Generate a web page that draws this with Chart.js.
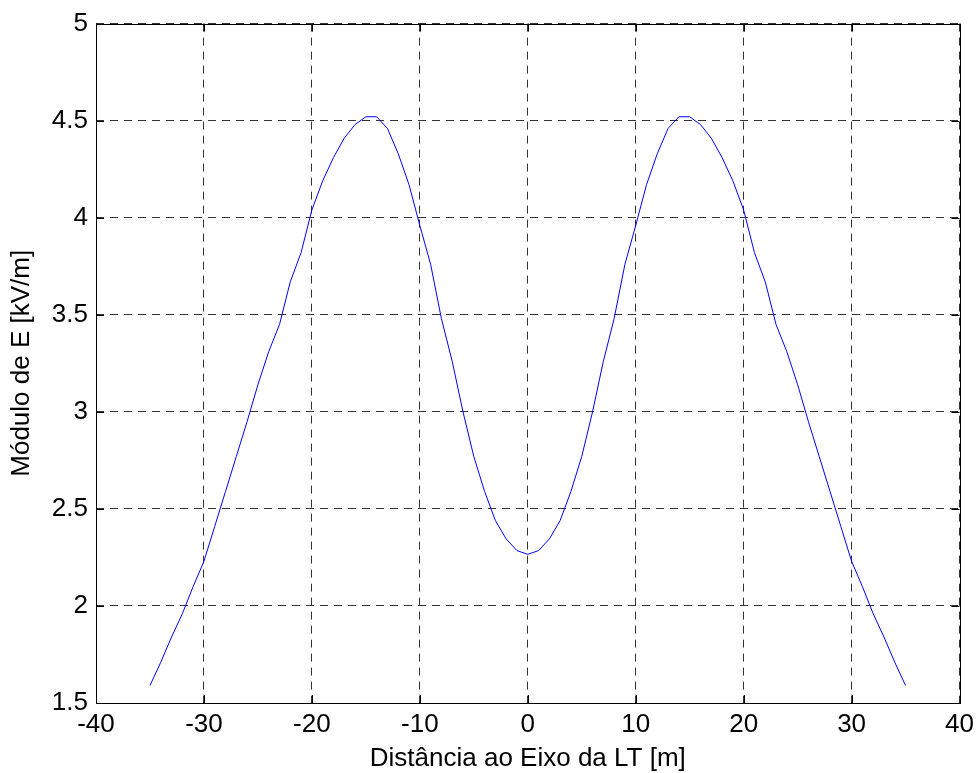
<!DOCTYPE html>
<html>
<head>
<meta charset="utf-8">
<script src="https://cdn.jsdelivr.net/npm/chart.js@4.4.0/dist/chart.umd.min.js"></script>
<style>
  body { margin: 0; background: #fff; }
  canvas { display: block; }
</style>
</head>
<body>
<canvas id="myChart" width="980" height="773"></canvas>
<script>
// data
const distances = [-35, -34, -33, -32, -31, -30, -29, -28, -27, -26, -25, -24, -23, -22, -21, -20, -19, -18,
    -17, -16, -15, -14, -13, -12, -11, -10, -9, -8, -7, -6, -5, -4, -3, -2, -1, 0,
    1, 2, 3, 4, 5, 6, 7, 8, 9, 10, 11, 12, 13, 14, 15, 16, 17,
    18, 19, 20, 21, 22, 23, 24, 25, 26, 27, 28, 29, 30, 31, 32, 33, 34, 35];
const fieldE = [1.59, 1.71, 1.84, 1.96, 2.10, 2.23, 2.41, 2.59, 2.77, 2.95, 3.14, 3.31, 3.45, 3.67, 3.82, 4.04, 4.19, 4.31,
    4.41, 4.48, 4.52, 4.52, 4.46, 4.33, 4.17, 3.96, 3.76, 3.48, 3.26, 3.00, 2.77, 2.59, 2.44, 2.345, 2.285, 2.266,
    2.285, 2.345, 2.44, 2.59, 2.77, 3.00, 3.26, 3.48, 3.76, 3.96, 4.17, 4.33, 4.46, 4.52, 4.52, 4.48, 4.41,
    4.31, 4.19, 4.04, 3.82, 3.67, 3.45, 3.31, 3.14, 2.95, 2.77, 2.59, 2.41, 2.23, 2.10, 1.96, 1.84, 1.71, 1.59];
const xTicks = [-40, -30, -20, -10, 0, 10, 20, 30, 40];
const yTicks = [1.5, 2, 2.5, 3, 3.5, 4, 4.5, 5];

const font = { family: '"Liberation Sans", Arial, sans-serif', size: 26 };

// matlab style box with inward ticks
const boxPlugin = {
    id: 'box',
    afterDraw(chart) {
        const { ctx, chartArea: a, scales } = chart;
        ctx.save();
        ctx.strokeStyle = '#000';
        ctx.lineWidth = 1;
        ctx.setLineDash([]);
        ctx.strokeRect(Math.round(a.left) + 0.5, Math.round(a.top) + 0.5,
            Math.round(a.right - a.left), Math.round(a.bottom - a.top));
        ctx.beginPath();
        xTicks.forEach(v => {
            const px = Math.round(scales.x.getPixelForValue(v)) + 0.5;
            ctx.moveTo(px, a.bottom); ctx.lineTo(px, a.bottom - 8);
            ctx.moveTo(px, a.top); ctx.lineTo(px, a.top + 8);
        });
        yTicks.forEach(v => {
            const py = Math.round(scales.y.getPixelForValue(v)) + 0.5;
            ctx.moveTo(a.left, py); ctx.lineTo(a.left + 8, py);
            ctx.moveTo(a.right, py); ctx.lineTo(a.right - 8, py);
        });
        ctx.stroke();
        ctx.restore();
    }
};

const ctx = document.getElementById('myChart').getContext('2d');
const myChart = new Chart(ctx, {
    type: 'line',
    data: {
        datasets: [{
            data: distances.map((d, i) => ({ x: d, y: fieldE[i] })),
            borderColor: '#0000ff',
            borderWidth: 1,
            pointRadius: 0,
            tension: 0,
            fill: false
        }]
    },
    options: {
        responsive: false,
        animation: false,
        layout: { padding: { top: 19, right: 17, left: 0, bottom: 0 } },
        plugins: { legend: { display: false }, tooltip: { enabled: false } },
        scales: {
            x: {
                type: 'linear',
                min: -40,
                max: 40,
                afterBuildTicks: scale => { scale.ticks = xTicks.map(v => ({ value: v })); },
                afterFit: scale => { scale.height = 70; },
                ticks: { color: '#000', font: font, padding: 6, maxRotation: 0, callback: v => String(v) },
                grid: { color: '#333', lineWidth: 1, drawTicks: false },
                border: { display: false, dash: [8, 6] },
                title: {
                    display: true,
                    text: 'Distância ao Eixo da LT [m]',
                    color: '#000',
                    font: { family: font.family, size: 26, lineHeight: 1.1 },
                    padding: { top: 0, bottom: 0 }
                }
            },
            y: {
                min: 1.5,
                max: 5,
                afterBuildTicks: scale => { scale.ticks = yTicks.map(v => ({ value: v })); },
                afterFit: scale => { scale.width = 96; },
                ticks: { color: '#000', font: font, padding: 8, callback: v => String(v) },
                grid: { color: '#333', lineWidth: 1, drawTicks: false },
                border: { display: false, dash: [8, 6] },
                title: {
                    display: true,
                    text: 'Módulo de E [kV/m]',
                    color: '#000',
                    font: { family: font.family, size: 26, lineHeight: 1.1 },
                    padding: { top: 8, bottom: 0 }
                }
            }
        }
    },
    plugins: [boxPlugin]
});
</script>
</body>
</html>
